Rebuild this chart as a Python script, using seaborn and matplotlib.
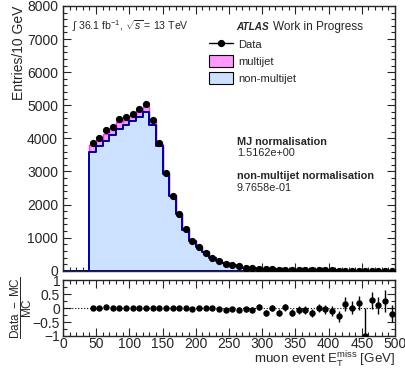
import numpy as np
import pandas as pd
import seaborn as sns
from matplotlib import pyplot as plt
from matplotlib.colors import to_rgba
from matplotlib.lines import Line2D
from matplotlib.patches import Patch
from matplotlib.ticker import MultipleLocator

# bin lower edges [GeV], 10 GeV bins from 40 to 500
bin_low = list(range(40, 500, 10))

data = [3855, 4010, 4260, 4350, 4590, 4645, 4745, 4875, 5030, 4555,
        3855, 2965, 2275, 1725, 1250, 915, 720, 552, 400, 298,
        215, 175, 135, 95, 80, 70, 52, 46, 40, 34,
        28, 24, 21, 17, 15, 13, 11, 9, 9, 7,
        7, 0, 5, 4, 4, 3]

non_multijet = [3580, 3755, 3910, 4090, 4285, 4400, 4520, 4645, 4805, 4400,
                3760, 2920, 2250, 1710, 1240, 910, 720, 555, 402, 300,
                225, 178, 143, 100, 85, 67, 62, 46, 48, 33,
                34, 26, 22.5, 20.5, 15, 13.6, 12.4, 12.7, 7.8, 6.9,
                5.9, 5.0, 3.9, 3.6, 3.2, 3.7]

multijet = [205, 185, 222, 225, 205, 152, 153, 183, 175, 121,
            70, 40, 25, 15, 10, 6, 4, 3, 2, 1.5,
            1, 0.5, 0.5, 0.3, 0.3, 0.2, 0.2, 0.1, 0.1, 0.1,
            0, 0, 0, 0, 0, 0, 0, 0, 0, 0,
            0, 0, 0, 0, 0, 0]

ratio = [0.0, 0.0, 0.02, -0.01, 0.0, -0.01, -0.01, -0.01, 0.0, 0.0,
         0.01, 0.0, 0.0, -0.01, -0.01, -0.02, -0.01, 0.0, -0.01, -0.02,
         -0.06, -0.02, -0.06, -0.04, -0.06, 0.04, -0.17, 0.01, -0.17, 0.02,
         -0.17, -0.07, -0.07, -0.17, 0.0, -0.04, -0.11, -0.29, 0.15, 0.01,
         0.19, -1.0, 0.28, 0.10, 0.24, -0.20]

ratio_err = [0.02, 0.02, 0.02, 0.02, 0.02, 0.02, 0.02, 0.02, 0.02, 0.02,
             0.02, 0.02, 0.02, 0.03, 0.03, 0.03, 0.04, 0.04, 0.05, 0.06,
             0.07, 0.07, 0.08, 0.09, 0.10, 0.10, 0.11, 0.11, 0.12, 0.12,
             0.12, 0.13, 0.13, 0.14, 0.15, 0.16, 0.18, 0.20, 0.24, 0.24,
             0.25, 1.0, 0.30, 0.30, 0.40, 0.30]

centers = [b + 5 for b in bin_low]
bins = list(range(0, 510, 10))

mc = pd.DataFrame({
    "met": centers * 2,
    "w": multijet + non_multijet,
    "process": ["multijet"] * len(centers) + ["non-multijet"] * len(centers),
})

sns.set_style("ticks")
plt.rcParams["font.family"] = ["Liberation Sans", "DejaVu Sans"]
plt.rcParams["mathtext.fontset"] = "custom"
plt.rcParams["mathtext.rm"] = "Liberation Sans"
plt.rcParams["mathtext.it"] = "Liberation Sans:italic"

fig = plt.figure(figsize=(4.06, 3.68), dpi=100)
ax = fig.add_axes([0.155, 0.264, 0.818, 0.720])
ax_r = fig.add_axes([0.155, 0.0870, 0.818, 0.152], sharex=ax)

# stacked MC
fill_colors = {"multijet": "#ff99ff", "non-multijet": "#cce0ff"}
sns.histplot(data=mc, x="met", weights="w", hue="process",
             hue_order=["multijet", "non-multijet"], multiple="stack",
             bins=bins, element="step", palette=fill_colors, alpha=1,
             linewidth=1.4, legend=False, ax=ax)
# navy outline of non-multijet drawn above the magenta multijet outline
mj_rgb = np.round(to_rgba(fill_colors["multijet"])[:3], 2)
for coll in ax.collections:
    if np.allclose(np.round(coll.get_facecolor()[0][:3], 2), mj_rgb):
        coll.set_edgecolor("#dd44dd")
        coll.set_linewidth(1.0)
        coll.set_zorder(1.5)
    else:
        coll.set_edgecolor("#000099")
        coll.set_zorder(2)

# data
ax.errorbar(centers, data, yerr=np.sqrt(data), fmt="o", color="black",
            markersize=4.2, elinewidth=1, capsize=0, zorder=5)

ax.set_xlim(0, 500)
ax.set_ylim(0, 8000)
ax.set_xlabel("")
ax.set_ylabel("Entries/10 GeV", loc="top", fontsize=10)
ax.yaxis.set_major_locator(MultipleLocator(1000))
ax.yaxis.set_minor_locator(MultipleLocator(200))
ax.xaxis.set_major_locator(MultipleLocator(50))
ax.xaxis.set_minor_locator(MultipleLocator(10))
plt.setp(ax.get_xticklabels(), visible=False)

ax.text(0.027, 0.922, r"$\int$ 36.1 fb$^{-1}$, $\sqrt{s}$ = 13 TeV",
        transform=ax.transAxes, fontsize=7.6, va="center")
ax.text(0.522, 0.922, "ATLAS", transform=ax.transAxes, fontsize=7.2,
        fontweight="bold", fontstyle="italic", va="center")
ax.text(0.632, 0.922, "Work in Progress", transform=ax.transAxes,
        fontsize=8.5, va="center")

handles = [
    Line2D([], [], color="black", marker="o", markersize=4.2, lw=1),
    Patch(facecolor="#ff99ff", edgecolor="black", lw=0.8),
    Patch(facecolor="#cce0ff", edgecolor="black", lw=0.8),
]
ax.legend(handles, ["Data", "multijet", "non-multijet"], loc="upper left",
          bbox_to_anchor=(0.425, 0.893), frameon=False, fontsize=8,
          handlelength=2.2, handleheight=1.2, labelspacing=0.48,
          handletextpad=0.5, borderaxespad=0)

ax.text(0.524, 0.485, "MJ normalisation", transform=ax.transAxes,
        fontsize=7.8, fontweight="bold", va="center")
ax.text(0.524, 0.445, "1.5162e+00", transform=ax.transAxes,
        fontsize=7.8, va="center")
ax.text(0.524, 0.357, "non-multijet normalisation", transform=ax.transAxes,
        fontsize=7.8, fontweight="bold", va="center")
ax.text(0.524, 0.312, "9.7658e-01", transform=ax.transAxes,
        fontsize=7.8, va="center")

# ratio panel
ax_r.axhline(0, color="black", ls=":", lw=0.8)
ax_r.errorbar(centers, ratio, yerr=ratio_err, fmt="o", color="black",
              markersize=3.6, elinewidth=1, capsize=0, zorder=5)
ax_r.set_ylim(-1, 1)
ax_r.yaxis.set_minor_locator(MultipleLocator(0.25))
ax_r.set_yticks([-1, -0.5, 0, 0.5, 1])
ax_r.set_yticklabels(["\u22121", "\u22120.5", "0", "0.5", "1"])
ax_r.set_ylabel(r"$\dfrac{\mathrm{Data\ -\ MC}}{\mathrm{MC}}$", fontsize=8.5)
ax_r.set_xlabel(r"muon event E$_\mathrm{T}^\mathrm{miss}$ [GeV]",
                loc="right", fontsize=9.6)

for a in (ax, ax_r):
    a.tick_params(which="both", direction="in", top=True, right=True,
                  labelsize=10, width=0.8)
    a.tick_params(which="major", length=6)
    a.tick_params(which="minor", length=3)
    for s in a.spines.values():
        s.set_linewidth(1)
ax_r.tick_params(axis="x", pad=1)
ax_r.tick_params(axis="y", pad=2)

ax.yaxis.set_label_coords(-0.11, 1.0)
ax_r.yaxis.set_label_coords(-0.087, 0.5)
ax_r.xaxis.set_label_coords(1.0, -0.25)

fig.savefig("out.png", dpi=100)
